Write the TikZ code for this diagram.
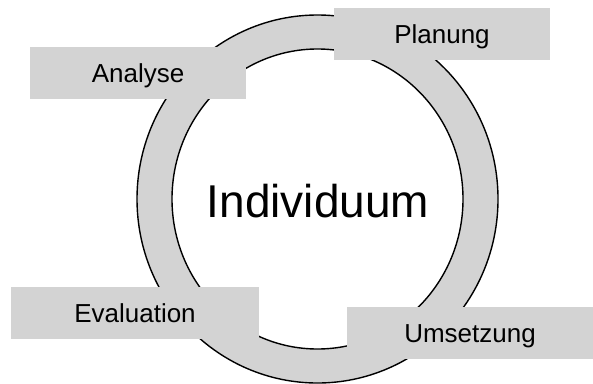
\documentclass[tikz,border=0pt]{standalone}
\usepackage{fontspec}
\setmainfont{Liberation Sans}
\usepackage{tikz}
\usetikzlibrary{positioning}
\definecolor{boxgray}{RGB}{211,211,211}

\begin{document}
\begin{tikzpicture}[x=1pt, y=-1pt,
  phase/.style={fill=boxgray, inner sep=0pt, minimum height=52pt, text height=22pt, text depth=3pt, font=\fontsize{26}{30}\selectfont}]
\useasboundingbox (0,0) rectangle (593,383);
\coordinate (mid) at (317.5,199);
% ring
\fill[boxgray, even odd rule] (mid) ellipse[x radius=180.5pt, y radius=184pt] (mid) ellipse[x radius=145.5pt, y radius=150pt];
\draw[line width=1.4pt] (mid) ellipse[x radius=180.5pt, y radius=184pt];
\draw[line width=1.4pt] (mid) ellipse[x radius=145.5pt, y radius=150pt];
\node[anchor=base, font=\fontsize{46}{50}\selectfont] (core) at (318,217) {Individuum};

% phases
\node[phase, minimum width=216pt] (analyse) at (138,73) {Analyse};
\node[phase, minimum width=216pt] (planung) at (442,34) {Planung};
\node[phase, minimum width=248pt] (evaluation) at (135,313) {Evaluation};
\node[phase, minimum width=246pt] (umsetzung) at (470,333) {Umsetzung};
\end{tikzpicture}
\end{document}
